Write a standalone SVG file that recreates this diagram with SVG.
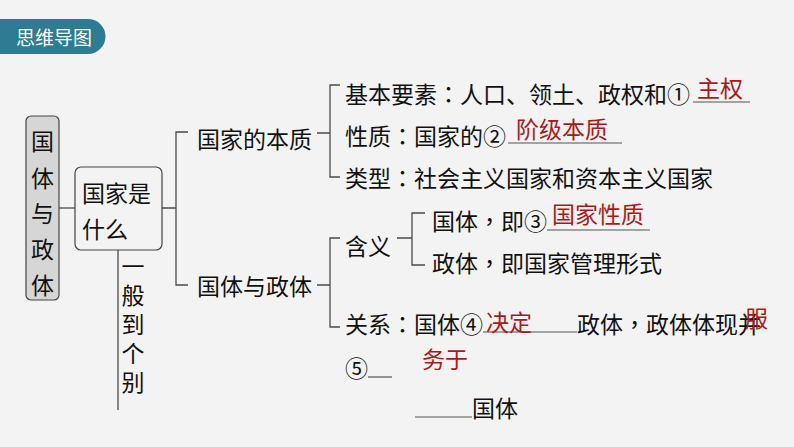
<svg xmlns="http://www.w3.org/2000/svg" width="794" height="447" viewBox="0 0 794 447">
<style>
text{font-family:"Noto Sans CJK SC","Noto Sans CJK JP",sans-serif;dominant-baseline:central;}
.t{font-size:23px;fill:#111;}
.r{font-size:23px;fill:#b01818;}
.h{font-size:19px;fill:#fff;}
.p{font-family:"Noto Sans CJK TC","Noto Sans CJK SC",sans-serif;}
.v{writing-mode:vertical-rl;letter-spacing:6px;}
.ln{stroke:#4a4a4a;stroke-width:1.3;fill:none;}
.ul{stroke:#555;stroke-width:1.2;fill:none;}
</style>
<rect x="0" y="0" width="794" height="447" fill="#f3f3f3"/>
<g id="header">
<path d="M0 19 H88 A17.5 17.5 0 0 1 88 54 H0 Z" fill="#2d7c94"/>
<text class="h" x="16" y="36.5">思维导图</text>
</g>
<g id="connectors">
<path class="ln" d="M59 208 H75"/>
<path class="ln" d="M162 208 H176 M188 132 H176 V285 H188"/>
<path class="ln" d="M317 133 H330 M340 85 H330 V177 H340"/>
<path class="ln" d="M317 285 H330 M340 238 H330 V327 H340"/>
<path class="ln" d="M397 238 H412 M425 213 H412 V265 H425"/>
<path class="ln" d="M118 250 V410"/>
</g>
<g id="root">
<rect x="26" y="116" width="33" height="184" rx="5" fill="#d6d6d6" stroke="#444" stroke-width="1.2"/>
<text class="t" text-anchor="middle"><tspan x="42.5" y="140">国</tspan><tspan x="42.5" y="177">体</tspan><tspan x="42.5" y="212">与</tspan><tspan x="42.5" y="248">政</tspan><tspan x="42.5" y="284">体</tspan></text>
</g>
<g id="what">
<rect x="75" y="167" width="87" height="83" rx="6" fill="#f3f3f3" stroke="#444" stroke-width="1.2"/>
<text class="t"><tspan x="82" y="192">国家是</tspan><tspan x="82" y="228">什么</tspan></text>
</g>
<g id="general">
<text class="t v" x="133" y="255">一般到个别</text>
</g>
<g id="essence">
<text class="t" x="197" y="138">国家的本质</text>
</g>
<g id="forms">
<text class="t" x="197" y="285">国体与政体</text>
</g>
<g id="elements">
<text class="t" x="345" y="93">基本要素<tspan class="p">：</tspan>人口、领土、政权和①</text>
<path class="ul" d="M693 102 H750"/>
<text class="r" x="697" y="87">主权</text>
</g>
<g id="nature">
<text class="t" x="345" y="135">性质<tspan class="p">：</tspan>国家的②</text>
<path class="ul" d="M508 143 H622"/>
<text class="r" x="516" y="128">阶级本质</text>
</g>
<g id="types">
<text class="t" x="345" y="177">类型<tspan class="p">：</tspan>社会主义国家和资本主义国家</text>
</g>
<g id="meaning">
<text class="t" x="345" y="245">含义</text>
</g>
<g id="guoti">
<text class="t" x="432" y="220">国体<tspan class="p">，</tspan>即③</text>
<path class="ul" d="M547 230 H650"/>
<text class="r" x="552" y="213">国家性质</text>
</g>
<g id="zhengti">
<text class="t" x="432" y="262">政体<tspan class="p">，</tspan>即国家管理形式</text>
</g>
<g id="relation">
<text class="t" x="345" y="323">关系<tspan class="p">：</tspan>国体④</text>
<path class="ul" d="M483 332 H577"/>
<text class="r" x="486" y="321">决定</text>
<text class="t" x="577" y="323">政体<tspan class="p">，</tspan>政体体现并<tspan x="745" y="317" fill="#b01818">服</tspan></text>
<text class="t" x="345" y="367">⑤</text>
<path class="ul" d="M368 377 H392"/>
<text class="r" x="422" y="358">务于</text>
<path class="ul" d="M415 417 H472"/>
<text class="t" x="472" y="407">国体</text>
</g>
</svg>
